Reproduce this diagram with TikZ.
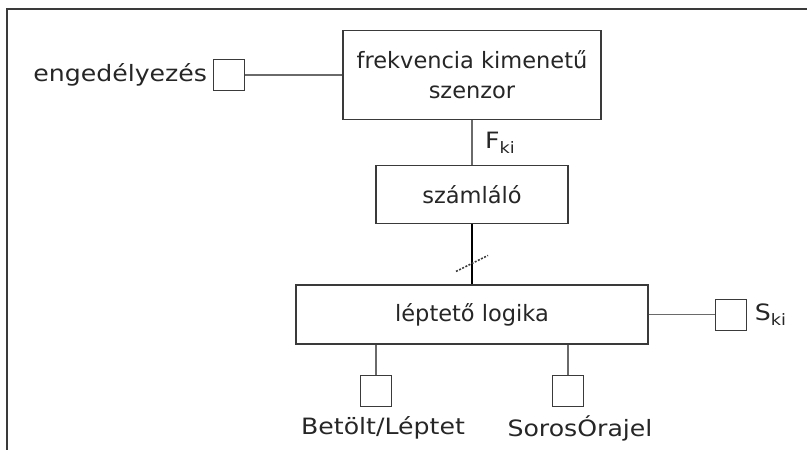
\documentclass[tikz,border=0pt]{standalone}
\usepackage{fontspec}
\setmainfont{DejaVu Sans}
\newfontfamily\widefont[FakeStretch=1.12]{DejaVu Sans}
\usetikzlibrary{calc,positioning}
\definecolor{boxgray}{HTML}{3A3A3A}
\definecolor{wiregray}{HTML}{6A6A6A}

\begin{document}
\begin{tikzpicture}[x=1pt,y=-1pt,
  blk/.style={draw=boxgray,line width=1.3pt,align=center,inner sep=0pt},
  pin/.style={draw=boxgray,line width=1.1pt,minimum size=31pt,inner sep=0pt},
  wire/.style={draw=wiregray,line width=1.2pt},
  lab/.style={inner sep=2pt,font=\widefont\fontsize{22.5}{30}\selectfont},
  every node/.style={font=\fontsize{22.5}{30}\selectfont,text=black!85}]
  \useasboundingbox (0,0) rectangle (807,450);
  \draw[line width=1.6pt,boxgray] (807,9) -- (7,9) -- (7,450);
  \node[blk,minimum width=258pt,minimum height=89pt] (szenzor) at (472,75) {frekvencia kimenetű\\szenzor};
  \node[blk,minimum width=192pt,minimum height=58pt,below=45pt of szenzor] (szamlalo) {számláló};
  \node[blk,minimum width=352pt,minimum height=59pt,below=60pt of szamlalo] (leptet) {léptető logika};
  \node[pin,left=97pt of szenzor] (engpin) {};
  \node[lab,left=4pt of engpin] (englab) {engedélyezés};
  \node[pin,right=66pt of leptet] (skipin) {};
  \node[lab,right=6pt of skipin] (skilab) {S\textsubscript{ki}};
  \node[pin,below=30pt of leptet.south,xshift=-96pt] (betpin) {};
  \node[pin,below=30pt of leptet.south,xshift=96pt] (orapin) {};
  \node[lab,below=7pt of betpin,xshift=7pt] (betlab) {Betölt/Léptet};
  \node[lab,below=7pt of orapin,xshift=12pt] (oralab) {SorosÓrajel};
  \node[lab,anchor=west] (fki) at ($(szenzor.south)!.5!(szamlalo.north)+(11,0)$) {F\textsubscript{ki}};
  % connections
  \draw[wire] (engpin) -- (szenzor);
  \draw[wire] (szenzor) -- (szamlalo);
  \draw[line width=2.6pt] (szamlalo) -- (leptet);
  \draw[boxgray,line width=1.5pt,dash pattern=on 2pt off 1.5pt]
    ($(szamlalo.south)!.65!(leptet.north)+(-16,8)$) -- ++(32,-16);
  \draw[wire] (leptet) -- (skipin);
  \draw[wire] (betpin) -- (betpin |- leptet.south);
  \draw[wire] (orapin) -- (orapin |- leptet.south);
\end{tikzpicture}
\end{document}
